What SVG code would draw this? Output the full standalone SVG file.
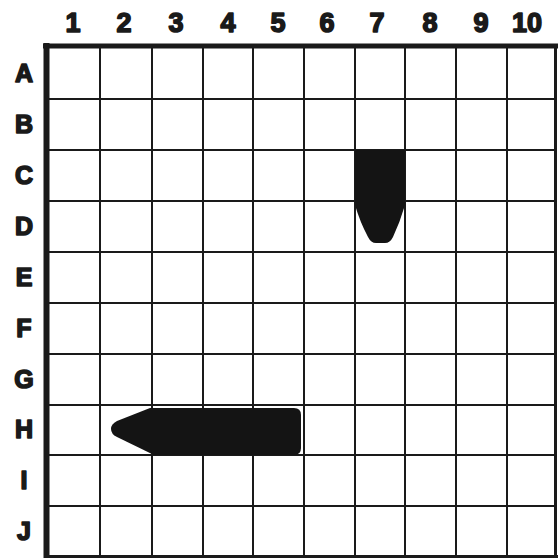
<svg xmlns="http://www.w3.org/2000/svg" width="559" height="558" viewBox="0 0 559 558">
<style>
.lbl{font-family:"Liberation Sans",Arial,sans-serif;font-weight:bold;fill:#1a1a1a;stroke:#1a1a1a;stroke-width:1.6;stroke-linejoin:round;text-anchor:middle}
.col{font-size:27px}
.row{font-size:25px}
.grid line{stroke:#1a1a1a;stroke-width:2}
.ship{fill:#141414}
</style>
<rect width="559" height="558" fill="#fff"/>
<g id="column-labels" class="lbl col">
<text x="73" y="32">1</text>
<text x="124" y="32">2</text>
<text x="176" y="32">3</text>
<text x="228" y="32">4</text>
<text x="278" y="32">5</text>
<text x="327" y="32">6</text>
<text x="377" y="32">7</text>
<text x="430" y="32">8</text>
<text x="481" y="32">9</text>
<text x="527" y="32">10</text>
</g>
<g id="row-labels" class="lbl row">
<text x="24" y="82">A</text>
<text x="24" y="133">B</text>
<text x="24" y="184">C</text>
<text x="24" y="235">D</text>
<text x="24" y="286">E</text>
<text x="24" y="337">F</text>
<text x="24" y="388">G</text>
<text x="24" y="438">H</text>
<text x="24" y="489">I</text>
<text x="24" y="540">J</text>
</g>
<g id="grid" class="grid">
<line x1="100" y1="47" x2="100" y2="556"/>
<line x1="152" y1="47" x2="152" y2="556"/>
<line x1="203" y1="47" x2="203" y2="556"/>
<line x1="253" y1="47" x2="253" y2="556"/>
<line x1="304" y1="47" x2="304" y2="556"/>
<line x1="355" y1="47" x2="355" y2="556"/>
<line x1="405" y1="47" x2="405" y2="556"/>
<line x1="456" y1="47" x2="456" y2="556"/>
<line x1="507" y1="47" x2="507" y2="556"/>
<line x1="47" y1="99" x2="556" y2="99"/>
<line x1="47" y1="150" x2="556" y2="150"/>
<line x1="47" y1="201" x2="556" y2="201"/>
<line x1="47" y1="252" x2="556" y2="252"/>
<line x1="47" y1="303" x2="556" y2="303"/>
<line x1="47" y1="354" x2="556" y2="354"/>
<line x1="47" y1="405" x2="556" y2="405"/>
<line x1="47" y1="455" x2="556" y2="455"/>
<line x1="47" y1="506" x2="556" y2="506"/>
<line x1="555.5" y1="46" x2="555.5" y2="558" style="stroke-width:3"/>
<line x1="44" y1="556.5" x2="558" y2="556.5" style="stroke-width:3"/>
<line x1="46.5" y1="43" x2="46.5" y2="558" style="stroke-width:6"/>
<line x1="43" y1="46" x2="558" y2="46" style="stroke-width:5"/>
</g>
<g id="ship-vertical">
<path class="ship" d="M355,150 H405 V205 Q400,222 393,237 Q390,243 385,243 H376 Q371,243 368,237 Q360,222 355,205 Z"/>
</g>
<g id="ship-horizontal">
<path class="ship" d="M150,408 H294 Q301,408 301,415 V448 Q301,455 294,455 H154 L117,437 Q111,434 111,429 Q111,424 117,421 Z"/>
</g>
</svg>
